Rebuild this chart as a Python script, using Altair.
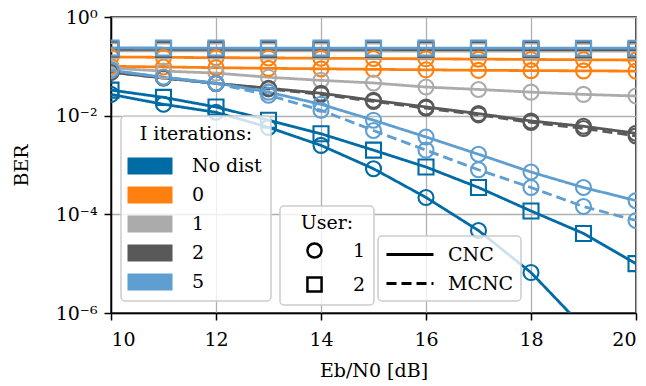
import altair as alt
import pandas as pd

# ---- data -------------------------------------------------------------------
snr = [10, 11, 12, 13, 14, 15, 16, 17, 18, 19, 20]

iter_levels = ["No dist", "0", "1", "2", "5"]
iter_colors = ["#006BA4", "#FF800E", "#ABABAB", "#595959", "#5F9ED1"]
user_levels = ["1", "2"]
scheme_levels = ["CNC", "MCNC"]

nodist_u1_cnc = [0.027, 0.017, 0.0117, 5.8e-3, 2.5e-3, 8.4e-4, 2.2e-4, 4.7e-5, 6.6e-6, 5.1e-7, 3e-8]
nodist_u2_cnc = [0.033, 0.0235, 0.015, 8.1e-3, 4.3e-3, 2.0e-3, 9.1e-4, 3.5e-4, 1.17e-4, 4.1e-5, 1.0e-5]

it0_u1_a = [0.155, 0.152, 0.150, 0.148, 0.146, 0.144, 0.142, 0.140, 0.138, 0.136, 0.134]
it0_u1_b = [0.100, 0.097, 0.094, 0.091, 0.089, 0.087, 0.085, 0.083, 0.082, 0.081, 0.080]

it1_u1_cnc = [0.092, 0.080, 0.073, 0.060, 0.052, 0.046, 0.038, 0.034, 0.030, 0.027, 0.025]
it1_u2_cnc = [0.207, 0.206, 0.206, 0.205, 0.205, 0.205, 0.204, 0.204, 0.204, 0.203, 0.203]

it2_u1_cnc = [0.076, 0.058, 0.045, 0.036, 0.0285, 0.0205, 0.015, 0.011, 0.0078, 0.0061, 0.0044]
it2_u1_mcnc = [0.076, 0.058, 0.045, 0.035, 0.027, 0.0195, 0.0142, 0.0104, 0.0073, 0.0055, 0.0039]
it2_u2_cnc = [0.222, 0.221, 0.221, 0.220, 0.220, 0.220, 0.219, 0.219, 0.219, 0.218, 0.218]

it5_u1_cnc = [0.083, 0.060, 0.046, 0.030, 0.017, 0.0081, 0.0037, 0.00165, 0.00072, 0.00035, 0.00019]
it5_u1_mcnc = [0.083, 0.060, 0.045, 0.026, 0.0129, 0.0050, 0.0020, 0.00080, 0.00035, 0.000144, 0.000075]
it5_u2_cnc = [0.236, 0.235, 0.235, 0.235, 0.234, 0.234, 0.234, 0.234, 0.233, 0.233, 0.233]

series = [
    ("No dist", "1", "CNC", "nd_u1", nodist_u1_cnc),
    ("No dist", "2", "CNC", "nd_u2", nodist_u2_cnc),
    ("0", "1", "CNC", "i0_a", it0_u1_a),
    ("0", "1", "CNC", "i0_b", it0_u1_b),
    ("1", "1", "CNC", "i1_u1", it1_u1_cnc),
    ("1", "2", "CNC", "i1_u2", it1_u2_cnc),
    ("2", "1", "CNC", "i2_u1c", it2_u1_cnc),
    ("2", "1", "MCNC", "i2_u1m", it2_u1_mcnc),
    ("2", "2", "CNC", "i2_u2", it2_u2_cnc),
    ("5", "1", "CNC", "i5_u1c", it5_u1_cnc),
    ("5", "1", "MCNC", "i5_u1m", it5_u1_mcnc),
    ("5", "2", "CNC", "i5_u2", it5_u2_cnc),
]

rows = []
for k, (it, user, scheme, sid, vals) in enumerate(series):
    for x, v in zip(snr, vals):
        rows.append({"snr": x, "ber": v, "iters": it, "user": user,
                     "scheme": scheme, "sid": sid, "k": k})
df = pd.DataFrame(rows)

FONT = "DejaVu Serif"
FS = 19

x_enc = alt.X("snr:Q",
              scale=alt.Scale(domain=[10, 20], nice=False, zero=False),
              axis=alt.Axis(values=[10, 12, 14, 16, 18, 20], title="Eb/N0 [dB]",
                            format="d", labelPadding=10, titlePadding=12))
y_enc = alt.Y("ber:Q",
              scale=alt.Scale(type="log", domain=[1e-6, 1], nice=False),
              axis=alt.Axis(values=[1, 0.01, 0.0001, 0.000001], title="BER",
                            labelExpr="datum.value > 0.5 ? '10⁰' : datum.value > 0.005 ? '10⁻²' : datum.value > 0.00005 ? '10⁻⁴' : '10⁻⁶'",
                            labelPadding=7, titlePadding=24))

legend_box = dict(orient="none", fillColor="rgba(255,255,255,0.8)",
                  strokeColor="#cccccc", cornerRadius=4, zindex=5)

color_scale = alt.Scale(domain=iter_levels, range=iter_colors)
color_plain = alt.Color("iters:N", scale=color_scale, legend=None)
color_leg = alt.Color("iters:N", scale=color_scale,
                      legend=alt.Legend(title="I iterations:", legendX=10, legendY=99,
                                        symbolType="M-1.25,-0.85H3.25V0.85H-1.25Z", symbolSize=400,
                                        symbolStrokeWidth=0, symbolOpacity=1,
                                        labelOffset=42, rowPadding=9, padding=9,
                                        titleAnchor="middle", titlePadding=12,
                                        **legend_box))
shape_enc = alt.Shape("user:N",
                      scale=alt.Scale(domain=user_levels, range=["circle", "square"]),
                      legend=alt.Legend(title="User:", legendX=169, legendY=189,
                                        symbolSize=200, symbolStrokeWidth=2.5,
                                        symbolStrokeColor="black", symbolFillColor="transparent",
                                        symbolOffset=17, labelOffset=29, rowPadding=9,
                                        padding=8, titleAnchor="middle", titlePadding=8,
                                        **legend_box))
dash_enc = alt.StrokeDash("scheme:N",
                          scale=alt.Scale(domain=scheme_levels, range=[[1, 0], [10, 5]]),
                          legend=alt.Legend(title=None, legendX=267, legendY=219,
                                            symbolType="M-1,0H3.7", symbolSize=400,
                                            symbolStrokeWidth=3, symbolStrokeColor="black",
                                            labelOffset=40, rowPadding=7, padding=7,
                                            **legend_box))

legend_src = alt.Chart(df).mark_square(filled=True, size=0, strokeWidth=0).encode(
    x=x_enc, y=y_enc, color=color_leg)
lines = alt.Chart(df).mark_line(strokeWidth=2.8, clip=True).encode(
    x=x_enc, y=y_enc, color=color_plain, strokeDash=dash_enc, detail="sid:N",
    order="snr:Q")
points = alt.Chart(df).mark_point(filled=False, size=225, strokeWidth=2.1,
                                  opacity=1, clip=True).encode(
    x=x_enc, y=y_enc, color=color_plain, shape=shape_enc)

chart = alt.layer(legend_src, lines, points).properties(
    width=525, height=296,
    padding={"left": 111, "top": 17, "right": 10, "bottom": 73},
    autosize=alt.AutoSizeParams(type="none"),
).configure_view(
    stroke="black", strokeWidth=1.5
).configure_axis(
    labelFont=FONT, labelFontSize=FS, labelColor="black",
    titleFont=FONT, titleFontSize=FS, titleFontWeight="normal", titleColor="black",
    domainColor="black", domainWidth=1.5, tickColor="black", tickWidth=1.5,
    tickSize=7, grid=True, gridColor="#b0b0b0", gridWidth=1.3,
).configure_legend(
    labelFont=FONT, labelFontSize=FS, labelColor="black",
    titleFont=FONT, titleFontSize=FS, titleFontWeight="normal", titleColor="black",
    strokeWidth=1.5,
)

chart.save("out.html", embed_options={"renderer": "svg", "actions": False})
